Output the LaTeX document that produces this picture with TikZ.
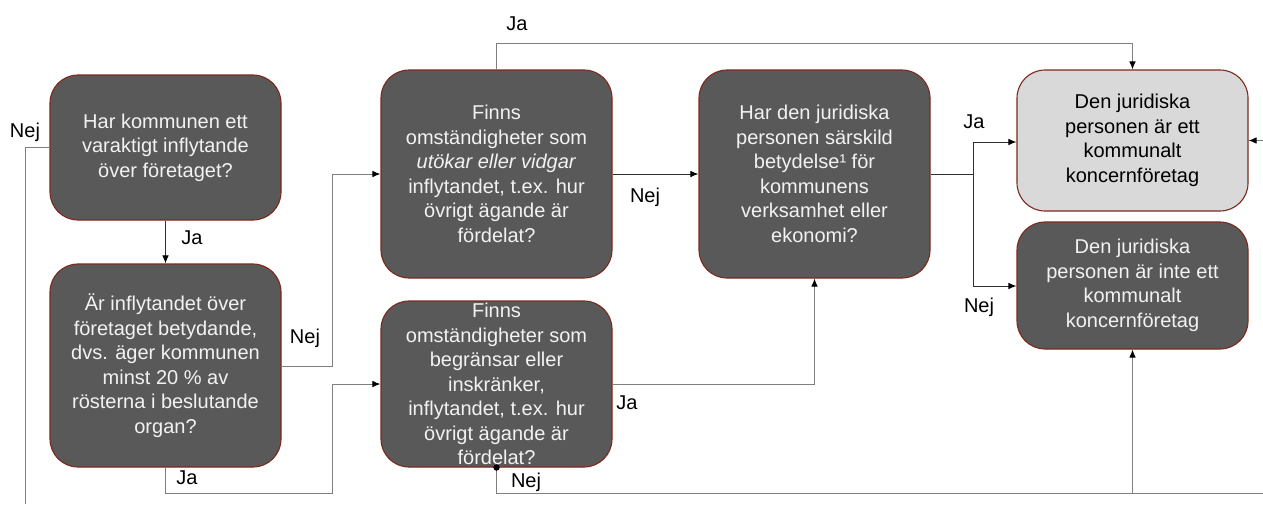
\documentclass[tikz,border=0pt]{standalone}
\usepackage{fontspec}
\setmainfont{Liberation Sans}
\usetikzlibrary{arrows.meta}
\definecolor{boxdark}{HTML}{595959}
\definecolor{boxlight}{HTML}{D9D9D9}
\definecolor{boxedge}{HTML}{7B2A1C}
\definecolor{boxtext}{HTML}{F2F2F2}
\definecolor{lineg}{HTML}{7F7F7F}
\definecolor{lined}{HTML}{303030}
\begin{document}
\begin{tikzpicture}[x=1pt,y=-1pt,
  every node/.style={font=\fontsize{20}{24.5}\selectfont},
  qbox/.style={draw=boxedge,line width=1.1pt,fill=boxdark,text=boxtext,rounded corners=28pt,
    minimum width=231pt,inner sep=0pt,align=center,anchor=center},
  lbox/.style={qbox,fill=boxlight,text=black},
  conn/.style={draw=lineg,line width=0.9pt,-{Latex[length=8pt,width=6.5pt,color=black]}},
  connplain/.style={draw=lineg,line width=0.9pt},
  connd/.style={draw=lined,line width=0.9pt,-{Latex[length=8pt,width=6.5pt,color=black]}},
  lab/.style={text=black,inner sep=0pt,anchor=center}]
\useasboundingbox (0,0) rectangle (1263,504);
\fill[white] (0,0) rectangle (1263,504);
% boxes
\node[qbox,minimum height=145pt] (A) at (165.5,147.5) {Har kommunen ett\\varaktigt inflytande\\över företaget?};
\node[qbox,minimum height=203pt] (B) at (165.5,365.5) {Är inflytandet över\\företaget betydande,\\dvs. äger kommunen\\minst 20 \% av\\rösterna i beslutande\\organ?};
\node[qbox,minimum height=208pt] (C) at (496.5,174) {Finns\\omständigheter som\\\textit{utökar eller vidgar}\\inflytandet, t.ex. hur\\övrigt ägande är\\fördelat?};
\node[qbox,minimum height=208pt] (D) at (814.5,174) {Har den juridiska\\personen särskild\\betydelse¹ för\\kommunens\\verksamhet eller\\ekonomi?};
\node[lbox,minimum height=141pt] (E) at (1132.5,140.5) {Den juridiska\\personen är ett\\kommunalt\\koncernföretag};
\node[qbox,minimum height=127pt] (F) at (1132.5,285.5) {Den juridiska\\personen är inte ett\\kommunalt\\koncernföretag};
\node[qbox,minimum height=166pt] (G) at (496.5,384) {Finns\\omständigheter som\\begränsar eller\\inskränker,\\inflytandet, t.ex. hur\\övrigt ägande är\\fördelat?};
% free ends
\coordinate (lend) at (25,504);
\coordinate (rin) at (1263,140.5);
\coordinate (rbot) at (1263,493);
% connectors
\draw[connd] (A.south) -- (B.north);
\draw[connplain] (A.west) -- (25,147.5) -- (lend);
\draw[conn] (B.east |- 0,366) -- (332,366) -- (332,174) -- (C.west |- 0,174);
\draw[conn] (B.south) -- (165.5,493) -- (332,493) -- (332,384) -- (G.west);
\draw[conn] (C.north) -- (496.5,43) -- (1132.5,43) -- (E.north);
\draw[connd] (C.east) -- (D.west);
\draw[connd] (D.east) -- (973,174) -- (973,142) -- (E.west |- 0,142);
\draw[connd] (973,174) -- (973,286) -- (F.west |- 0,286);
\draw[conn] (G.east) -- (814.5,384) -- (D.south);
\draw[connplain] (G.south) -- (496.5,493) -- (rbot);
\fill[black] (G.south) circle (3.2pt);
\draw[conn] (1132.5,493) -- (F.south);
\draw[conn] (rin) -- (E.east);
% labels
\node[lab] (l1) at (517,24) {Ja};
\node[lab] (l2) at (25,132) {Nej};
\node[lab] (l3) at (192,238) {Ja};
\node[lab] (l4) at (305,338) {Nej};
\node[lab] (l5) at (187,478) {Ja};
\node[lab] (l6) at (645,197) {Nej};
\node[lab] (l7) at (974,122) {Ja};
\node[lab] (l8) at (979,307) {Nej};
\node[lab] (l9) at (627,403) {Ja};
\node[lab] (l10) at (526,482) {Nej};
\end{tikzpicture}
\end{document}
